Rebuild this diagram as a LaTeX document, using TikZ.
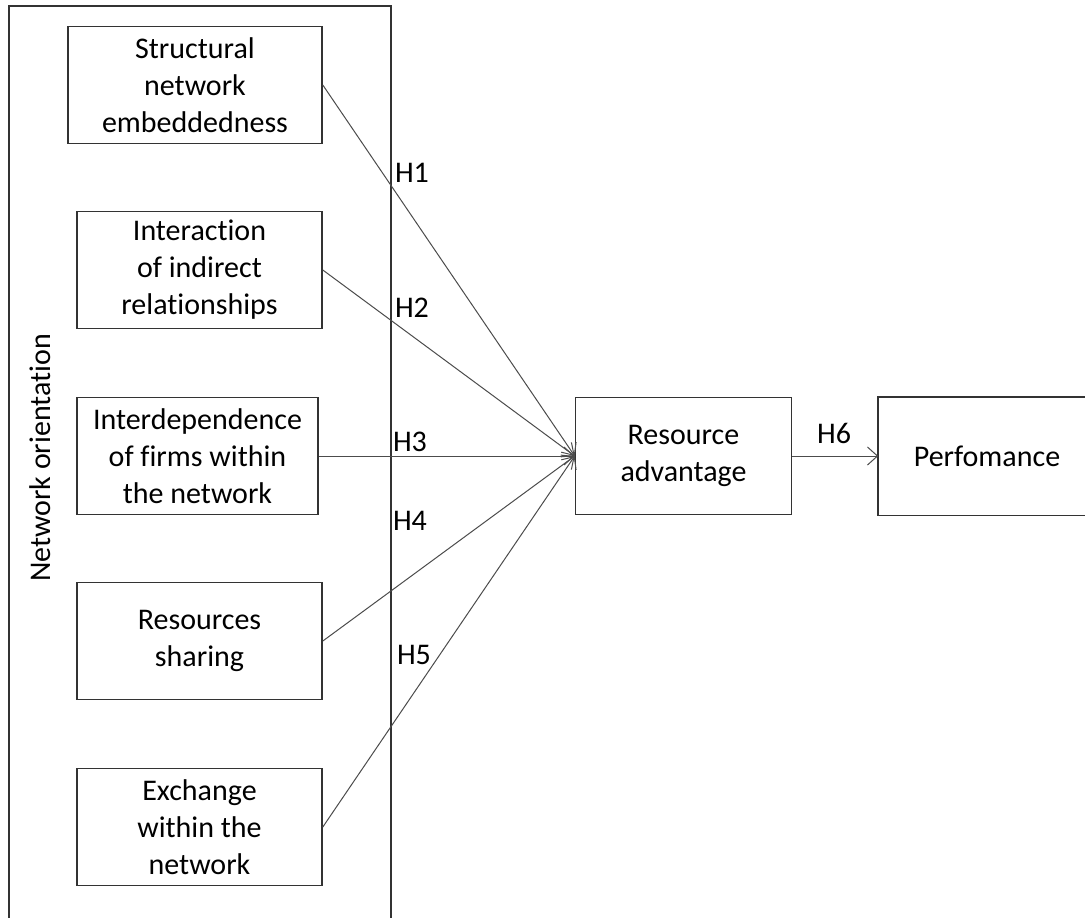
\documentclass[tikz,border=0pt]{standalone}
\usepackage{fontspec}
\setmainfont{Carlito}[Ligatures=NoCommon]
\usetikzlibrary{arrows.meta}

\tikzset{
  boxline/.style={draw=black!80, line width=0.8pt},
  factor/.style={boxline, align=center, minimum width=122.5pt, minimum height=58.5pt, inner sep=2pt},
  outcome/.style={factor, minimum width=108pt},
  hyp/.style={draw=black!70, line width=0.5pt, -{Straight Barb[length=5pt,width=9pt]}},
  hlabel/.style={inner sep=0pt}
}

\begin{document}
\begin{tikzpicture}[x=0.5pt, y=-0.5pt, font=\fontsize{15}{18.5}\selectfont]
			%%%%% START %%%%%
			
			\useasboundingbox (0, 0) rectangle (1085, 917);
			\clip (0, 0) rectangle (1085, 917);
			\fill[white] (0, 0) rectangle (1085, 917);
			
			% network orientation frame
			\draw[boxline] (9, 6) rectangle (391, 940);
			\node[rotate=90] (orient) at (40, 458) {Network orientation};
			
			% antecedents
			\node[factor, minimum width=127pt] (embed) at (195, 85) {Structural\\network\\embeddedness};
			\node[factor] (indirect) at (199.5, 270) {Interaction\\of indirect\\relationships};
			\node[factor, minimum width=120.5pt] (interdep) at (197.5, 456) {Interdependence\\of firms within\\the network};
			\node[factor] (sharing) at (199.5, 641) {Resources\\sharing};
			\node[factor] (exchange) at (199.5, 827) {Exchange\\within the\\network};
			
			% mediator and outcome (outcome box runs off the right edge)
			\node[outcome] (advantage) at (683.5, 456) {Resource\\advantage};
			\node[outcome, draw=none] (perf) at (987, 456) {Perfomance};
			\draw[boxline] (perf.north west) ++(300, 0) -- (perf.north west) -- (perf.south west) -- ++(300, 0);
			
			\draw[hyp] (embed.east) -- (advantage.west);
			\draw[hyp] (indirect.east) -- (advantage.west);
			\draw[hyp] (interdep.east) -- (advantage.west);
			\draw[hyp] (sharing.east) -- (advantage.west);
			\draw[hyp] (exchange.east) -- (advantage.west);
			\draw[hyp] (advantage.east) -- (perf.west);
			
			\node[hlabel] (h1) at (412, 173) {H1};
			\node[hlabel] (h2) at (412, 308) {H2};
			\node[hlabel] (h3) at (410, 442) {H3};
			\node[hlabel] (h4) at (410, 521) {H4};
			\node[hlabel] (h5) at (414, 655) {H5};
			\node[hlabel] (h6) at (834, 433) {H6};
			
			%%%%% END %%%%%
\end{tikzpicture}
\end{document}
